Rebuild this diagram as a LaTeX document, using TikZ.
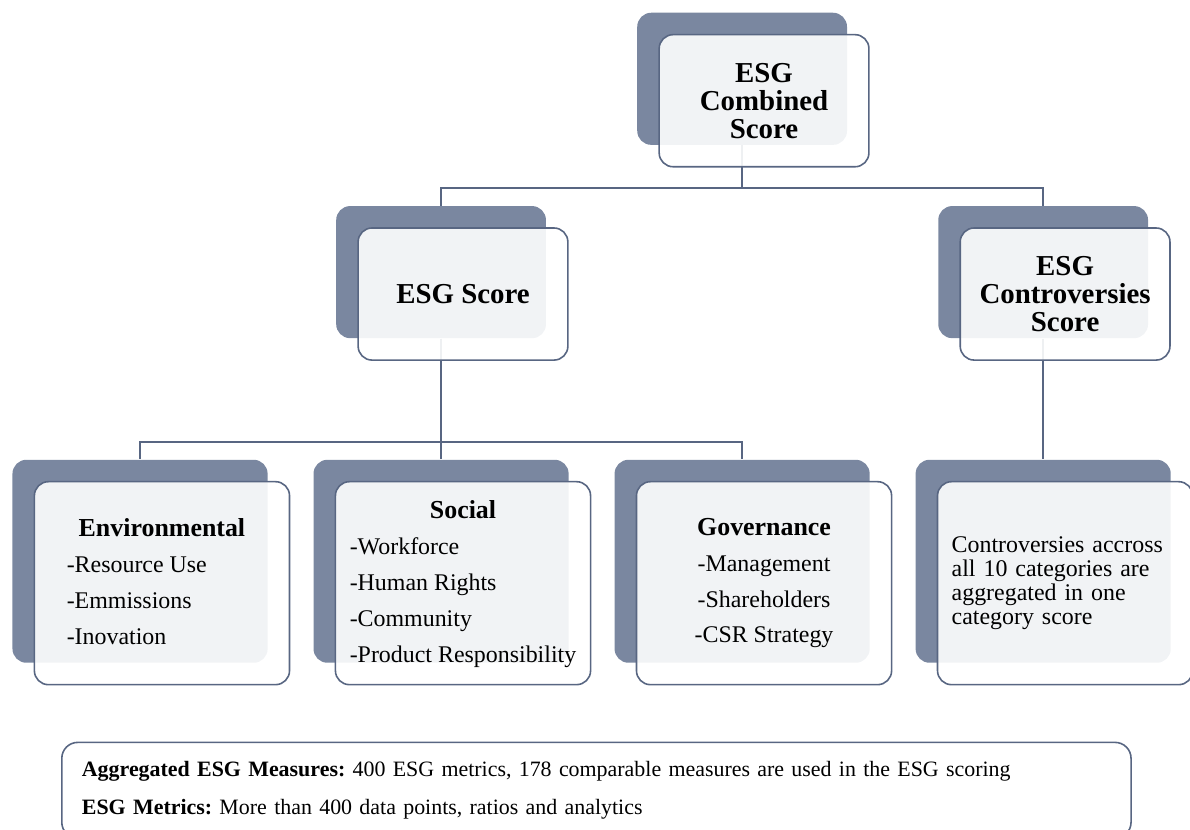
\documentclass[tikz,border=0pt]{standalone}
\usepackage{fontspec}
\setmainfont{Liberation Serif}
\usepackage{xcolor}
\usepackage{tikz}
\definecolor{slate}{RGB}{122, 135, 160}
\definecolor{slateline}{RGB}{88, 102, 130}
\usetikzlibrary{positioning,backgrounds}
\frenchspacing

\begin{document}
\begin{tikzpicture}[
    back/.style={rectangle, fill=slate, rounded corners=7pt, inner sep=0pt},
    card/.style={rectangle, draw=slateline, line width=0.8pt, fill=white, fill opacity=0.9, text opacity=1, rounded corners=7pt, align=center, inner sep=0pt, xshift=11pt, yshift=-11pt},
    small/.style={minimum width=3.70cm, minimum height=2.33cm},
    large/.style={minimum width=4.50cm, minimum height=3.58cm},
    title/.style={font=\fontsize{14.5}{14}\selectfont\bfseries},
    pillar/.style={font=\fontsize{12}{18}\selectfont},
    note/.style={rectangle, draw=slateline, line width=0.8pt, rounded corners=8pt, minimum width=18.86cm, minimum height=1.69cm, text width=18.15cm, align=left, font=\fontsize{11}{12}\selectfont},
    link/.style={draw=slateline, line width=1pt}
]
    \useasboundingbox (0,0) rectangle (20.99,14.64);

    % Combined score
    \node[back, small] (combinedbk) at (13.09,13.25) {};
    \node[card, small, title] (combined) at (combinedbk) {ESG\\Combined\\Score};

    % Second level
    \node[back, small] (esgscorebk) at (7.78,9.84) {};
    \node[card, small, title] (esgscore) at (esgscorebk) {ESG Score};
    \node[back, small] (controbk) at (18.40,9.84) {};
    \node[card, small, title] (contro) at (controbk) {ESG\\Controversies\\Score};

    % Pillars
    \node[back, large] (envbk) at (2.47,4.74) {};
    \node[card, large, pillar] (env) at (envbk) {\begin{tabular}{@{}l@{}}\multicolumn{1}{c}{\fontsize{13}{18}\selectfont\bfseries Environmental}\\-Resource Use\\-Emmissions\\-Inovation\end{tabular}};
    \node[back, large] (socialbk) at (7.78,4.74) {};
    \node[card, large, pillar] (social) at (socialbk) {\begin{tabular}{@{}l@{}}\multicolumn{1}{c}{\fontsize{13}{18}\selectfont\bfseries Social}\\-Workforce\\-Human Rights\\-Community\\-Product Responsibility\end{tabular}};
    \node[back, large] (govbk) at (13.09,4.74) {};
    \node[card, large, pillar] (gov) at (govbk) {{\fontsize{13}{18}\selectfont\bfseries Governance}\\-Management\\-Shareholders\\-CSR Strategy};

    % Controversies category
    \node[back, large] (catscorebk) at (18.40,4.74) {};
    \node[card, large, align=left, text width=4.0cm, font=\fontsize{12}{12}\selectfont] (catscore) at (catscorebk) {Controversies accross\\all 10 categories are\\aggregated in one\\category score};

    % Notes
    \node[note] (notes) at (10.52,0.70) {\textbf{Aggregated ESG Measures:} 400 ESG metrics, 178 comparable measures are used in the ESG scoring\\[7.5pt]\textbf{ESG Metrics:} More than 400 data points, ratios and analytics};

    % Connectors
    \begin{scope}[on background layer]
        \draw[link] (combinedbk.south) -- ++(0,-0.76) -| (esgscorebk.north);
        \draw[link] (combinedbk.south) -- ++(0,-0.76) -| (controbk.north);
        \draw[link] (esgscorebk.south) -- ++(0,-1.83) -| (envbk.north);
        \draw[link] (esgscorebk.south) -- ++(0,-1.83) -| (socialbk.north);
        \draw[link] (esgscorebk.south) -- ++(0,-1.83) -| (govbk.north);
        \draw[link] (controbk.south) -- (catscorebk.north);
    \end{scope}
\end{tikzpicture}
\end{document}
